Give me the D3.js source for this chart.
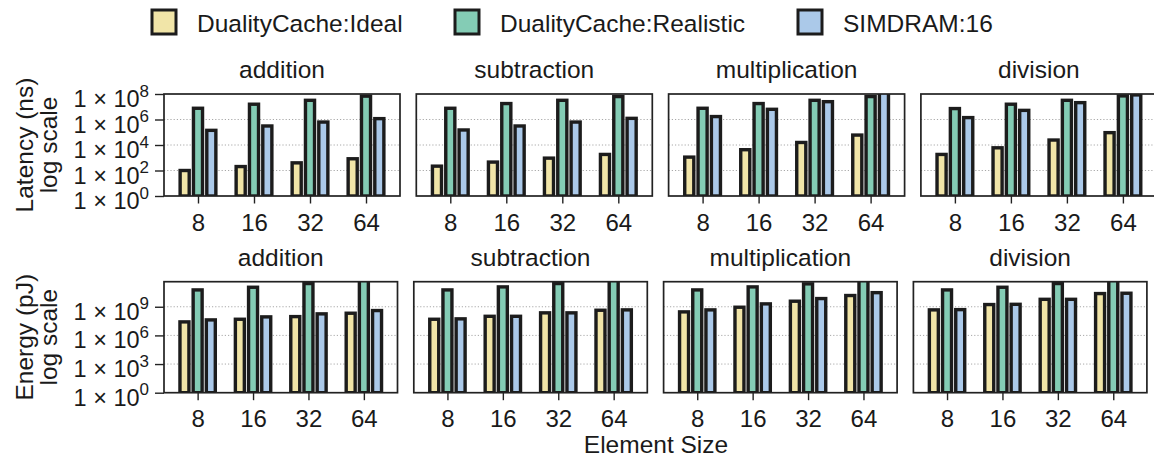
<!DOCTYPE html>
<html>
<head>
<meta charset="utf-8">
<script src="https://cdn.jsdelivr.net/npm/d3@7/dist/d3.min.js"></script>
<style>
  html, body { margin: 0; padding: 0; background: #fff; }
  svg { display: block; font-family: "Liberation Sans", Arial, Helvetica, sans-serif; }
</style>
</head>
<body>
<svg id="chart" width="1154" height="460"></svg>
<script>
// ---- data ----
const categories = ["8", "16", "32", "64"];
const operations = ["addition", "subtraction", "multiplication", "division"];
const seriesNames = ["DualityCache:Ideal", "DualityCache:Realistic", "SIMDRAM:16"];

// Latency (ns), one row per operation: addition, subtraction, multiplication, division
const latencyIdeal = [
  [100, 204, 398, 832],
  [219, 457, 933, 1820],
  [1120, 4270, 1.58e4, 6.0e4],
  [1820, 6030, 2.45e4, 9.3e4]
];
const latencyRealistic = [
  [7.6e6, 1.58e7, 3.2e7, 6.8e7],
  [7.6e6, 1.78e7, 3.2e7, 6.3e7],
  [7.6e6, 1.78e7, 3.2e7, 6.3e7],
  [7.2e6, 1.58e7, 3.2e7, 7.1e7]
];
const latencySimdram = [
  [1.41e5, 3.1e5, 6.3e5, 1.17e6],
  [1.51e5, 3.1e5, 6.3e5, 1.23e6],
  [1.7e6, 6.3e6, 2.5e7, 1.6e8],
  [1.41e6, 5.2e6, 2.1e7, 8.5e7]
];

// Energy (pJ), same row order
const energyIdeal = [
  [2.6e7, 4.9e7, 9.3e7, 2.1e8],
  [4.9e7, 1.0e8, 2.3e8, 4.3e8],
  [2.9e8, 8.9e8, 3.8e9, 1.5e10],
  [4.7e8, 1.7e9, 6.0e9, 2.4e10]
];
const energyRealistic = [
  [5.8e10, 1.1e11, 2.7e11, 8.0e11],
  [5.8e10, 1.2e11, 2.7e11, 8.0e11],
  [5.8e10, 1.2e11, 2.5e11, 8.0e11],
  [5.8e10, 1.1e11, 2.7e11, 8.0e11]
];
const energySimdram = [
  [4.2e7, 8.7e7, 1.8e8, 4.0e8],
  [5.4e7, 1.0e8, 2.3e8, 4.7e8],
  [4.7e8, 2.0e9, 7.2e9, 3.0e10],
  [5.0e8, 1.8e9, 6.0e9, 2.6e10]
];

const latencyTicks = [1e0, 1e2, 1e4, 1e6, 1e8];
const energyTicks = [1e0, 1e3, 1e6, 1e9];

// ---- styling ----
const colors = ["#f1e5a8", "#84ccb5", "#abc9e9"];
const ink = "#1c1c1c";
const textInk = "#1a1a1a";
const FONT = 24.5;
const TICK_FONT = 24;
const YTICK_FONT = 23.5;

const svg = d3.select("#chart");

const rows = [
  {
    name: "lat", top: 94, bottom: 196, x0: 164, width: 236, step: 252.3,
    domain: [1, 1e8], ticks: latencyTicks,
    series: [latencyIdeal, latencyRealistic, latencySimdram],
    label: ["Latency (ns)", "log scale"]
  },
  {
    name: "en", top: 281.7, bottom: 392.7, x0: 164, width: 233.5, step: 249.8,
    domain: [1, 4.2e11], ticks: energyTicks,
    series: [energyIdeal, energyRealistic, energySimdram],
    label: ["Energy (pJ)", "log scale"]
  }
];

rows.forEach(row => {
  const h = row.bottom - row.top;
  const y = d3.scaleLog().domain(row.domain).range([h, 0]);

  operations.forEach((op, oi) => {
    const g = svg.append("g")
      .attr("transform", `translate(${row.x0 + oi * row.step},${row.top})`);
    const x = d3.scalePoint().domain(categories).range([0, row.width]).padding(0.607);
    const off = x.step() * 0.238;
    const bw = x.step() * 0.162;

    // dotted grid at interior decades
    g.append("g").selectAll("line")
      .data(row.ticks.filter(t => t > row.domain[0] && t < row.domain[1]))
      .join("line")
      .attr("x1", 0).attr("x2", row.width)
      .attr("y1", d => y(d)).attr("y2", d => y(d))
      .attr("stroke", "#a8a8a8").attr("stroke-width", 1)
      .attr("stroke-dasharray", "1.2,2");

    const clipId = `clip-${row.name}-${oi}`;
    g.append("clipPath").attr("id", clipId)
      .append("rect").attr("x", 0).attr("y", 0).attr("width", row.width).attr("height", h);

    const bars = g.append("g").attr("clip-path", `url(#${clipId})`);
    row.series.forEach((ser, si) => {
      bars.append("g").selectAll("rect")
        .data(categories.map((c, ci) => ({ c, v: ser[oi][ci] })))
        .join("rect")
        .attr("x", d => x(d.c) + (si - 1) * off - bw / 2)
        .attr("y", d => y(d.v))
        .attr("width", bw)
        .attr("height", d => h - y(d.v))
        .attr("fill", colors[si])
        .attr("stroke", ink)
        .attr("stroke-width", 3.4);
    });

    // frame
    g.append("rect")
      .attr("x", 0).attr("y", 0).attr("width", row.width).attr("height", h)
      .attr("fill", "none").attr("stroke", "#222").attr("stroke-width", 1.7);

    // x axis
    const xa = g.append("g").attr("transform", `translate(0,${h})`)
      .call(d3.axisBottom(x).tickSize(7.5).tickPadding(10));
    xa.select(".domain").remove();
    xa.selectAll(".tick line").attr("stroke", "#222").attr("stroke-width", 1.4);
    xa.selectAll(".tick text")
      .attr("font-size", TICK_FONT).attr("fill", textInk)
      .attr("font-family", "Liberation Sans, Arial, sans-serif");

    // y axis (first column only carries labels)
    if (oi === 0) {
      const ya = g.append("g")
        .call(d3.axisLeft(y).tickValues(row.ticks).tickSize(9).tickFormat(""));
      ya.select(".domain").remove();
      ya.selectAll(".tick line").attr("stroke", "#222").attr("stroke-width", 1.4);
      ya.selectAll(".tick").each(function (d) {
        const t = d3.select(this).append("text")
          .attr("x", -15).attr("y", 12.5)
          .attr("text-anchor", "end")
          .attr("fill", textInk)
          .attr("font-size", YTICK_FONT)
          .attr("font-family", "Liberation Sans, Arial, sans-serif");
        t.append("tspan").text("1 \u00d7 10");
        t.append("tspan").attr("dy", -10.5).attr("font-size", 17)
          .text(String(Math.round(Math.log10(d))));
      });

      // rotated axis title, two lines
      const cy = row.top + h / 2;
      [[row.label[0], 33], [row.label[1], 57]].forEach(([txt, bx]) => {
        svg.append("text")
          .attr("transform", `translate(${bx},${cy}) rotate(-90)`)
          .attr("text-anchor", "middle")
          .attr("font-size", FONT).attr("fill", textInk)
          .text(txt);
      });
    }

    // panel title
    g.append("text")
      .attr("x", row.width / 2).attr("y", -16)
      .attr("text-anchor", "middle")
      .attr("font-size", FONT).attr("fill", textInk)
      .text(op);
  });
});

// shared x label
svg.append("text")
  .attr("x", 656).attr("y", 453)
  .attr("text-anchor", "middle")
  .attr("font-size", FONT).attr("fill", textInk)
  .text("Element Size");

// legend
const legendX = [152, 455, 798];
const legend = svg.append("g");
seriesNames.forEach((name, i) => {
  legend.append("rect")
    .attr("x", legendX[i]).attr("y", 10).attr("width", 24).attr("height", 24)
    .attr("fill", colors[i]).attr("stroke", ink).attr("stroke-width", 3);
  legend.append("text")
    .attr("x", legendX[i] + 45).attr("y", 32)
    .attr("font-size", FONT).attr("fill", textInk)
    .text(name);
});
</script>
</body>
</html>
